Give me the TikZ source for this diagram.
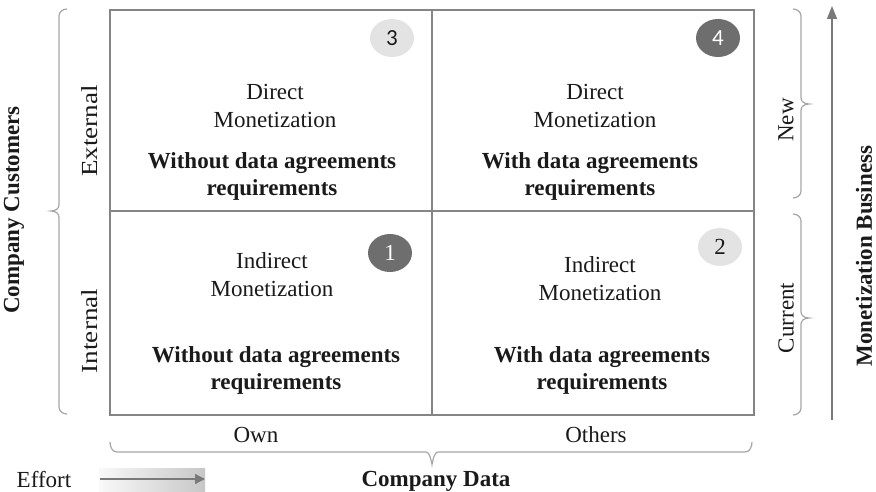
\documentclass[tikz,border=0pt]{standalone}
\usepackage{fontspec}
\usepackage{graphicx}
\setmainfont{Liberation Serif}
\newfontfamily\numsans{Carlito}
\usetikzlibrary{arrows.meta,shapes.geometric}
\definecolor{boxgray}{HTML}{858585}
\definecolor{bracegray}{HTML}{A6A6A6}
\definecolor{lightc}{HTML}{E3E3E3}
\definecolor{darkc}{HTML}{6E6E6E}
\definecolor{arrgray}{HTML}{7A7A7A}
\definecolor{txt}{HTML}{1A1A1A}
\tikzset{
  lbl/.style={font=\fontsize{23}{27}\selectfont, text=txt, inner sep=0pt, align=center},
  blbl/.style={lbl, font=\fontsize{23}{27}\selectfont\bfseries},
  bracepath/.style={draw=bracegray, line width=1.2pt},
  lightnum/.style={ellipse, fill=lightc, minimum width=44pt, minimum height=38pt, inner sep=0pt, text=txt, font=\fontsize{23}{23}\selectfont},
  darknum/.style={ellipse, fill=darkc, minimum width=44pt, minimum height=38pt, inner sep=0pt, text=white, font=\fontsize{23}{23}\selectfont},
}
\begin{document}
\begin{tikzpicture}[x=1pt,y=-1pt]
\useasboundingbox (0,0) rectangle (876,492);
\fill[white] (0,0) rectangle (876,492);

% grid
\coordinate (tl) at (110,10);
\coordinate (br) at (754,415);
\coordinate (mt) at (432,10);
\coordinate (mb) at (432,415);
\coordinate (ml) at (110,211);
\coordinate (mr) at (754,211);
\draw[boxgray, line width=1.5pt] (mt) -- (mb);
\draw[boxgray, line width=1.5pt] (ml) -- (mr);
\draw[boxgray, line width=2.6pt] (tl) rectangle (br);

% numbers
\node[lightnum] (n3) at (392,38) {\numsans 3};
\node[darknum] (n4) at (718,38) {\numsans 4};
\node[darknum] (n1) at (390,253) {1};
\node[lightnum] (n2) at (720,247) {2};

% quadrant texts
\node[lbl] (q3a) at (275,92) {Direct};
\node[lbl] (q3b) at (275,120) {Monetization};
\node[blbl] (q3c) at (272,163) {Without data agreements};
\node[blbl] (q3d) at (272,190) {requirements};

\node[lbl] (q4a) at (595,92) {Direct};
\node[lbl] (q4b) at (595,120) {Monetization};
\node[blbl] (q4c) at (590,163) {With data agreements};
\node[blbl] (q4d) at (590,190) {requirements};

\node[lbl] (q1a) at (272,261) {Indirect};
\node[lbl] (q1b) at (272,289) {Monetization};
\node[blbl] (q1c) at (276,357) {Without data agreements};
\node[blbl] (q1d) at (276,384) {requirements};

\node[lbl] (q2a) at (600,265) {Indirect};
\node[lbl] (q2b) at (600,293) {Monetization};
\node[blbl] (q2c) at (602,357) {With data agreements};
\node[blbl] (q2d) at (602,384) {requirements};

% left side
\draw[bracepath] (67,9) to[out=180,in=90] (59,16) -- (59,205) to[out=270,in=0] (51,211)
  to[out=0,in=90] (59,217) -- (59,407) to[out=270,in=180] (67,414);
\node[blbl, rotate=90] (cc) at (14,210) {Company Customers};
\node[lbl, rotate=90] (ext) at (90,131) {\scalebox{1.18}[1]{External}};
\node[lbl, rotate=90] (int) at (90,331) {\scalebox{1.18}[1]{Internal}};

% right side
\draw[bracepath] (793,9) to[out=0,in=90] (801,16) -- (801,98) to[out=270,in=180] (809,104)
  to[out=180,in=90] (801,110) -- (801,191) to[out=270,in=0] (793,198);
\draw[bracepath] (793,214) to[out=0,in=90] (801,221) -- (801,312) to[out=270,in=180] (809,318)
  to[out=180,in=90] (801,324) -- (801,408) to[out=270,in=0] (793,415);
\node[lbl, rotate=90] (new) at (786,120) {New};
\node[lbl, rotate=90] (cur) at (786,318) {Current};
\coordinate (ab) at (832,420);
\coordinate (at) at (832,6);
\draw[arrgray, line width=1.5pt, -{Triangle[length=13pt,width=10pt]}] (ab) -- (at);
\node[blbl, rotate=90] (mb2) at (864,256) {Monetization Business};

% bottom
\node[lbl] (own) at (256,435) {Own};
\node[lbl] (oth) at (596,435) {Others};
\draw[bracepath] (110,442) to[out=270,in=180] (117,452) -- (426,452) to[out=0,in=270] (432,463)
  to[out=270,in=180] (438,452) -- (745,452) to[out=0,in=270] (752,442);
\node[blbl] (cd) at (436,481) {Company Data};
\node[lbl] (eff) at (44,480) {Effort};
\shade[left color=white!95!gray, right color=black!22] (99,468) rectangle (205,493);
\coordinate (ea) at (100,479);
\coordinate (eb) at (205,479);
\draw[arrgray, line width=1.3pt, -{Triangle[length=10pt,width=10pt]}] (ea) -- (eb);
\end{tikzpicture}
\end{document}
